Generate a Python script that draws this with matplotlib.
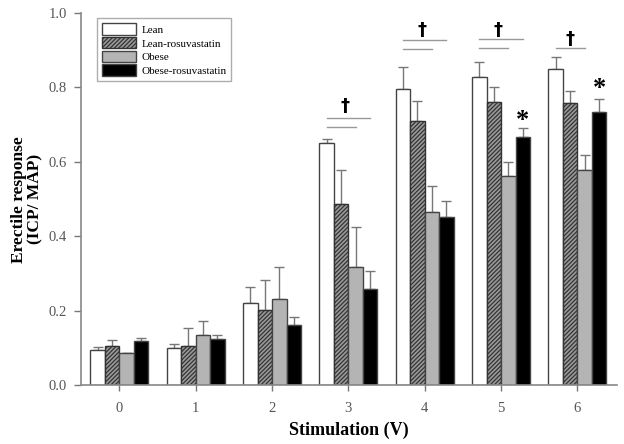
import matplotlib
matplotlib.use("Agg")
import matplotlib.pyplot as plt
import numpy as np

plt.rcParams['font.family'] = ['Liberation Serif', 'DejaVu Serif']
plt.rcParams['hatch.linewidth'] = 0.9

stim = [0, 1, 2, 3, 4, 5, 6]
series = ["Lean", "Lean-rosuvastatin", "Obese", "Obese-rosuvastatin"]
lean = [0.095, 0.100, 0.220, 0.652, 0.795, 0.828, 0.849]
lean_err = [0.008, 0.011, 0.043, 0.009, 0.060, 0.039, 0.033]
lean_rosu = [0.105, 0.106, 0.202, 0.487, 0.710, 0.762, 0.757]
lean_rosu_err = [0.018, 0.049, 0.081, 0.092, 0.054, 0.038, 0.034]
obese = [0.088, 0.136, 0.231, 0.317, 0.466, 0.563, 0.578]
obese_err = [0.0, 0.036, 0.086, 0.107, 0.070, 0.036, 0.041]
obese_rosu = [0.119, 0.124, 0.162, 0.259, 0.453, 0.667, 0.735]
obese_rosu_err = [0.009, 0.012, 0.021, 0.047, 0.041, 0.024, 0.035]

# significance annotations (group index, dagger height, line heights)
dagger_groups = [3, 4, 5, 6]
dagger_y = [0.75, 0.954, 0.954, 0.93]
upper_line_y = [0.718, 0.928, 0.930, None]
lower_line_y = [0.694, 0.903, 0.906, 0.906]
star_groups = [5, 6]
star_y = [0.712, 0.797]

fig = plt.figure(figsize=(6.24, 4.44), dpi=100)
ax = fig.add_axes([0.130, 0.132, 0.859, 0.839])

x = np.arange(len(stim))
w = 0.19
offsets = np.array([-1.5, -0.5, 0.5, 1.5]) * w
vals = [lean, lean_rosu, obese, obese_rosu]
errs = [lean_err, lean_rosu_err, obese_err, obese_rosu_err]
faces = ['white', '#9a9a9a', '#b4b4b4', 'black']
hatches = [None, '////////', None, None]
edges = ['#444444', '#333333', '#444444', '#444444']
for i in range(4):
    ax.bar(x + offsets[i], vals[i], w, color=faces[i], edgecolor=edges[i],
           linewidth=1.0, hatch=hatches[i], label=series[i], zorder=2)
    ax.errorbar(x + offsets[i], vals[i],
                yerr=[np.zeros(len(stim)), errs[i]], fmt='none',
                ecolor='#777777', elinewidth=1.0, capsize=3.8, capthick=1.0,
                zorder=1)

line_color = '#999999'
for g, dy, uy, ly in zip(dagger_groups, dagger_y, upper_line_y, lower_line_y):
    if uy is not None:
        ax.plot([g + offsets[0], g + offsets[3]], [uy, uy], color=line_color, lw=1.0)
        ax.plot([g + offsets[0], g + offsets[2]], [ly, ly], color=line_color, lw=1.0)
        ax.text(g - 0.04, dy, '†', ha='center', va='center', fontsize=13,
                fontweight='bold', family=['DejaVu Sans'])
    else:
        ax.plot([g + offsets[0], g + offsets[2]], [ly, ly], color=line_color, lw=1.0)
        ax.text(g - 0.1, dy, '†', ha='center', va='center', fontsize=13,
                fontweight='bold', family=['DejaVu Sans'])
for g, sy in zip(star_groups, star_y):
    ax.text(g + offsets[3], sy, '*', ha='center', va='center', fontsize=19,
            fontweight='bold')

ax.set_xlim(-0.5, 6.52)
ax.set_ylim(0, 1.0)
ax.set_xticks(x)
ax.set_xticklabels([str(s) for s in stim])
ax.set_yticks([0.0, 0.2, 0.4, 0.6, 0.8, 1.0])
ax.set_yticklabels(['0.0', '0.2', '0.4', '0.6', '0.8', '1.0'])
ax.tick_params(axis='both', colors='#777777', labelcolor='#555555',
               labelsize=10.5, length=5, width=1.0, direction='out', pad=5)
ax.tick_params(axis='x', direction='inout', length=8, pad=8)
for s in ['top', 'right']:
    ax.spines[s].set_visible(False)
for s in ['left', 'bottom']:
    ax.spines[s].set_color('#888888')
    ax.spines[s].set_linewidth(1.2)

ax.set_xlabel('Stimulation (V)', fontsize=13, fontweight='bold', labelpad=5)
ax.set_ylabel('Erectile response\n(ICP/ MAP)', fontsize=12.5, fontweight='bold',
              labelpad=4, linespacing=1.0)

leg = ax.legend(loc='upper left', bbox_to_anchor=(0.02, 1.0), fontsize=8,
                frameon=True, fancybox=False, edgecolor='#999999',
                handlelength=3.0, handleheight=1.2, labelspacing=0.2,
                borderpad=0.45, handletextpad=0.5)
leg.get_frame().set_linewidth(1.0)

fig.savefig('out.png', dpi=100)
